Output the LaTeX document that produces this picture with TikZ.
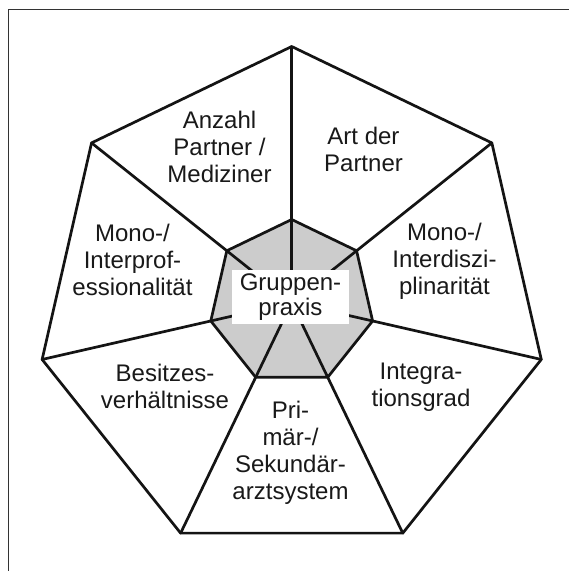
\documentclass[tikz,border=0pt]{standalone}
\usepackage{fontspec}
\setmainfont{Liberation Sans}
\usetikzlibrary{calc}
\begin{document}
\begin{tikzpicture}[x=1pt,y=-1pt,
  edge/.style={line width=2.7pt, line join=round, line cap=round, draw=black!92},
  lbl/.style={align=center, font=\fontsize{24}{27}\selectfont, text=black!90, inner sep=0pt},
  hub/.style={fill=white, minimum width=117pt, minimum height=54pt, inner sep=0pt,
              align=center, font=\fontsize{24}{25}\selectfont, text=black!90},
  frame/.style={line width=1pt, draw=black!80}
]
\useasboundingbox (0,0) rectangle (569,571);
\fill[white] (0,0) rectangle (569,571);
\draw[frame] (8,571) -- (8,9) -- (569,9);
\coordinate (C) at (291.7,302.5);
\foreach \k in {0,...,6} {
  \coordinate (O\k) at ($(C)+({-90+\k*360/7}:256)$);
  \coordinate (I\k) at ($(C)+({-90+\k*360/7}:83)$);
}
\fill[black!20] (I0) \foreach \k in {1,...,6}{ -- (I\k) } -- cycle;
\foreach \k in {0,...,6} { \draw[edge] (O\k) -- (C); }
\draw[edge] (O0) \foreach \k in {1,...,6}{ -- (O\k) } -- cycle;
\draw[edge] (I0) \foreach \k in {1,...,6}{ -- (I\k) } -- cycle;
\node[hub] (hubbox) at (290.5,297) {Gruppen-\\praxis};
\node[lbl] (anzahl) at (219.5,147) {Anzahl\\Partner /\\Mediziner};
\node[lbl] (art) at (363.5,149) {Art der\\Partner};
\node[lbl] (interprof) at (132.5,259.5) {Mono-/\\Interprof-\\essionalität};
\node[lbl] (interdis) at (444.5,261) {Mono-/\\Interdiszi-\\plinarität};
\node[lbl] (besitz) at (165,386) {Besitzes-\\verhältnisse};
\node[lbl] (integr) at (421,387.5) {Integra-\\tionsgrad};
\node[lbl] (primaer) at (290.5,452.5) {Pri-\\mär-/\\Sekundär-\\arztsystem};
\end{tikzpicture}
\end{document}
